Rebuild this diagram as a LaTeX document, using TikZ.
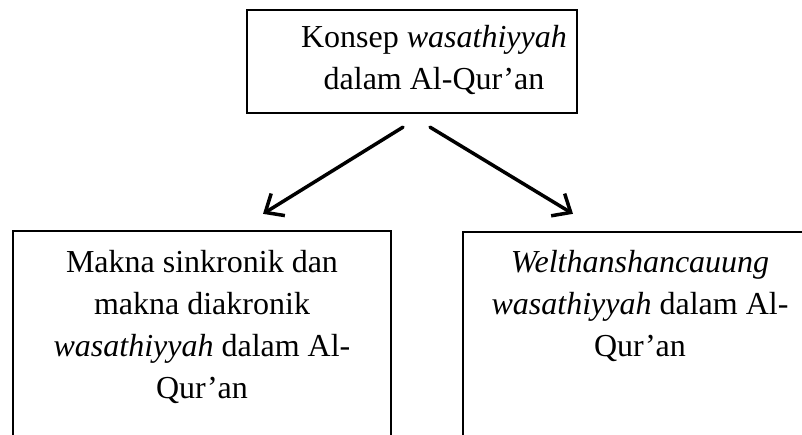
\documentclass[tikz,border=0pt]{standalone}
\usepackage{fontspec}
\setmainfont{Liberation Serif}
\usepackage{tikz}
\usetikzlibrary{arrows.meta}
\tikzset{
  kotak/.style={draw, line width=2.3pt, inner sep=0pt},
  teks/.style={align=center, inner sep=0pt, font=\fontsize{32}{42}\selectfont},
  panah/.style={line width=3.5pt, line cap=round, -{Straight Barb[length=15pt,width=26pt]}}
}
\begin{document}
\begin{tikzpicture}[x=1pt,y=1pt]
 \useasboundingbox (0,0) rectangle (802,434);
 \clip (0,0) rectangle (802,434);
 % kotak
 \node[kotak, minimum width=330, minimum height=103] (konsep) at (412,372.5) {};
 \node[kotak, minimum width=378, minimum height=300] (makna) at (202,53) {};
 \node[kotak, minimum width=358, minimum height=300] (welt) at (642,52) {};
 % teks
 \node[teks, anchor=north] (konsepteks) at (434,409) {Konsep \textit{wasathiyyah}\\dalam Al-Qur'an};
 \node[teks, anchor=north] (maknateks) at (202,184) {Makna sinkronik dan\\makna diakronik\\\textit{wasathiyyah} dalam Al-\\Qur'an};
 \node[teks, anchor=north] (weltteks) at (640,184) {\textit{Welthanshancauung}\\\textit{wasathiyyah} dalam Al-\\Qur'an};
  \draw[panah] ([xshift=-9pt,yshift=-13pt]konsep.south) -- ([xshift=61pt,yshift=16pt]makna.north);
  \draw[panah] ([xshift=18pt,yshift=-13pt]konsep.south) -- ([xshift=-69pt,yshift=17pt]welt.north);
\end{tikzpicture}
\end{document}
